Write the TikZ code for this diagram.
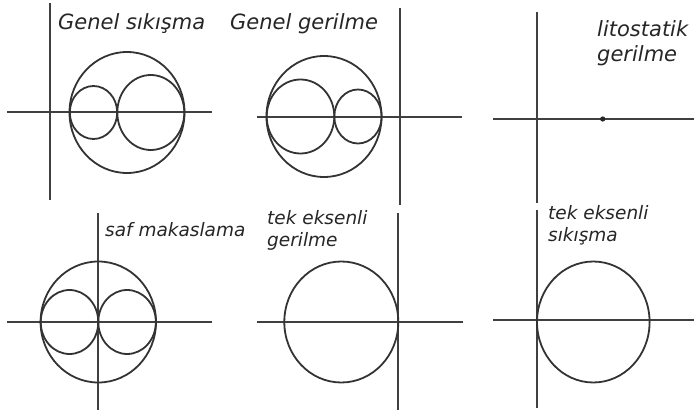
\documentclass[tikz,border=0pt]{standalone}
\usepackage{fontspec}
\setmainfont{DejaVu Sans}
\tikzset{
  axis/.style={line width=2pt, draw=black!75},
  mohr/.style={line width=1.8pt, draw=black!80},
  lblbig/.style={anchor=base west, inner sep=0pt, font=\fontsize{21}{25}\selectfont\itshape, text=black!85},
  lblsmall/.style={anchor=base west, inner sep=0pt, font=\fontsize{18.5}{22}\selectfont\itshape, text=black!85},
}
\begin{document}
\begin{tikzpicture}[x=1pt,y=-1pt]
\useasboundingbox (0,0) rectangle (694,414);
% Panel 1: Genel sikisma
\draw[axis] (50,3) -- (50,200);
\draw[axis] (7,112) -- (212,112);
\draw[mohr] (127,112.5) ellipse [x radius=57.5, y radius=60.5];
\draw[mohr] (93.5,112.5) ellipse [x radius=23.7, y radius=26.5];
\draw[mohr] (150.8,112.5) ellipse [x radius=33.5, y radius=37.5];
\node[lblbig] (t1) at (58,30) {Genel sıkışma};
% Panel 2: Genel gerilme
\draw[axis] (400,8) -- (400,205);
\draw[axis] (257,117) -- (462,117);
\draw[mohr] (324,116.5) ellipse [x radius=57.5, y radius=60.5];
\draw[mohr] (300.5,116.5) ellipse [x radius=33.8, y radius=37];
\draw[mohr] (358,116.5) ellipse [x radius=23.7, y radius=27];
\node[lblbig] (t2) at (230,30) {Genel gerilme};
% Panel 3: litostatik gerilme
\draw[axis] (537,12) -- (537,203);
\draw[axis] (493,119) -- (694,119);
\fill[black!85] (602.7,119) circle (2.6);
\node[lblbig] (t3a) at (597,37) {litostatik};
\node[lblbig] (t3b) at (597,62) {gerilme};
% Panel 4: saf makaslama
\draw[axis] (98,212.7) -- (98,410);
\draw[axis] (7,322) -- (212,322);
\draw[mohr] (98.3,322) ellipse [x radius=57.7, y radius=60.5];
\draw[mohr] (69.5,322) ellipse [x radius=28.8, y radius=32];
\draw[mohr] (127.1,322) ellipse [x radius=28.8, y radius=32];
\node[lblsmall] (t4) at (105,237) {saf makaslama};
% Panel 5: tek eksenli gerilme
\draw[axis] (398,213) -- (398,410);
\draw[axis] (257.3,322) -- (462.7,322);
\draw[mohr] (341.3,322) ellipse [x radius=57, y radius=60.5];
\node[lblsmall] (t5a) at (267,225) {tek eksenli};
\node[lblsmall] (t5b) at (267,247) {gerilme};
% Panel 6: tek eksenli sikisma
\draw[axis] (537,210) -- (537,408);
\draw[axis] (493.3,320) -- (694,320);
\draw[mohr] (593.3,322) ellipse [x radius=56.3, y radius=60.5];
\node[lblsmall] (t6a) at (548,220) {tek eksenli};
\node[lblsmall] (t6b) at (548,242) {sıkışma};
\end{tikzpicture}
\end{document}
